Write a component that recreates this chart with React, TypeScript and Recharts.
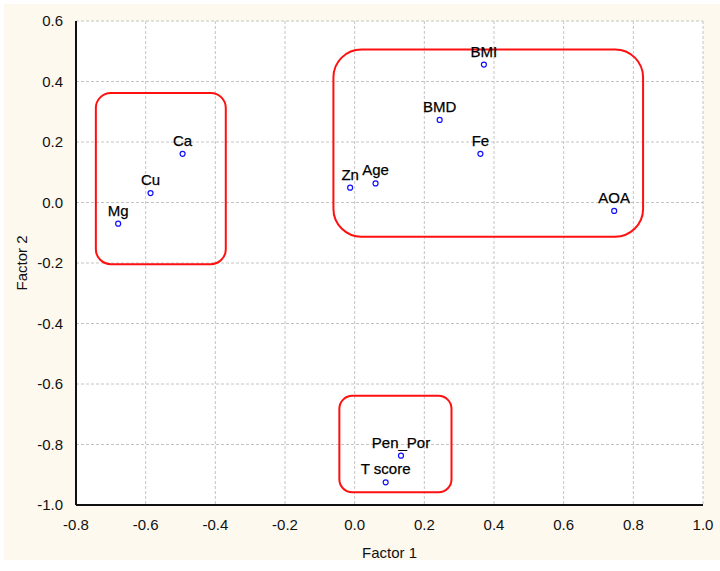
import { ScatterChart, Scatter, XAxis, YAxis, CartesianGrid, ReferenceArea, Label } from 'recharts';

const names = ['Mg', 'Cu', 'Ca', 'Zn', 'Age', 'BMI', 'BMD', 'Fe', 'AOA', 'Pen_Por', 'T score'];
const factor1 = [-0.679, -0.586, -0.494, -0.013, 0.06, 0.371, 0.244, 0.361, 0.745, 0.133, 0.089];
const factor2 = [-0.07, 0.031, 0.161, 0.049, 0.063, 0.456, 0.273, 0.161, -0.028, -0.837, -0.925];

const xTicks = [-0.8, -0.6, -0.4, -0.2, 0, 0.2, 0.4, 0.6, 0.8, 1.0];
const yTicks = [-1.0, -0.8, -0.6, -0.4, -0.2, 0, 0.2, 0.4, 0.6];

// cluster outlines: [x1, x2, y1, y2, corner]
const groups = [
  [-0.743, -0.37, -0.204, 0.362, 15],
  [-0.061, 0.828, -0.113, 0.506, 28],
  [-0.044, 0.278, -0.958, -0.639, 13],
];

const points = names.map((name, i) => ({ name, x: factor1[i], y: factor2[i] }));

const font = 'Liberation Sans, Arial, sans-serif';
const tickStyle = { fontSize: 15, fill: '#111', fontFamily: font };
const fmt = (v: number) => v.toFixed(1);

const Point = (props: any) => {
  const { cx, cy, payload } = props;
  return (
    <g>
      <circle cx={cx} cy={cy} r={2.5} fill="#fff" stroke="#1010ff" strokeWidth={1.2} />
      <text x={cx} y={cy - 8} textAnchor="middle" fontSize={15} fontFamily={font} fill="#000" stroke="#000" strokeWidth={0.25}>
        {payload.name}
      </text>
    </g>
  );
};

export default function App() {
  return (
    <div style={{ position: 'absolute', left: 0, top: 0, width: 720, height: 571, background: '#fff' }}>
      <div style={{ position: 'absolute', left: 4, top: 4, width: 716, height: 556, background: '#fdf9ee' }} />
      <div style={{ position: 'absolute', left: 0, top: 0 }}>
        <ScatterChart width={720} height={571} margin={{ top: 21, right: 17, left: 0, bottom: 0 }}>
          <CartesianGrid xAxisId="main" yAxisId="main" fill="#fff" stroke="#c4c4c4" strokeDasharray="3 2" />
          <XAxis
            xAxisId="main"
            type="number"
            dataKey="x"
            domain={[-0.8, 1.0]}
            ticks={xTicks}
            tickFormatter={fmt}
            height={66}
            tickLine={false}
            tickMargin={8}
            tick={tickStyle}
            axisLine={{ stroke: '#111', strokeWidth: 2 }}
          >
            <Label value="Factor 1" position="insideBottom" offset={13} style={{ fontSize: 15, fill: '#111', fontFamily: font }} />
          </XAxis>
          <XAxis xAxisId="bin" type="number" domain={[-0.8, 1.0]} ticks={xTicks} orientation="bottom" mirror height={0} tick={false} tickSize={3} axisLine={false} tickLine={{ stroke: '#111' }} />
          <XAxis xAxisId="top" type="number" domain={[-0.8, 1.0]} ticks={xTicks} orientation="top" mirror height={0} tick={false} tickSize={3} axisLine={{ stroke: '#222', strokeWidth: 2 }} tickLine={{ stroke: '#111' }} />
          <YAxis
            yAxisId="main"
            type="number"
            dataKey="y"
            domain={[-1.0, 0.6]}
            ticks={yTicks}
            tickFormatter={fmt}
            width={76}
            tickLine={false}
            tickMargin={7}
            tick={tickStyle}
            axisLine={{ stroke: '#111', strokeWidth: 2 }}
          >
            <Label value="Factor 2" angle={-90} position="insideLeft" offset={22} style={{ fontSize: 15, fill: '#111', fontFamily: font, textAnchor: 'middle' }} />
          </YAxis>
          <YAxis yAxisId="lin" type="number" domain={[-1.0, 0.6]} ticks={yTicks} orientation="left" mirror width={0} tick={false} tickSize={3} axisLine={false} tickLine={{ stroke: '#111' }} />
          <YAxis yAxisId="right" type="number" domain={[-1.0, 0.6]} ticks={yTicks} orientation="right" mirror width={0} tick={false} tickSize={3} axisLine={{ stroke: '#111', strokeWidth: 2 }} tickLine={{ stroke: '#111' }} />
          {groups.map((g, i) => (
            <ReferenceArea
              key={i}
              xAxisId="main"
              yAxisId="main"
              x1={g[0]}
              x2={g[1]}
              y1={g[2]}
              y2={g[3]}
              shape={(p: any) => (
                <rect x={p.x} y={p.y} width={p.width} height={p.height} rx={g[4]} ry={g[4]} fill="none" stroke="#ff1010" strokeWidth={2} />
              )}
            />
          ))}
          <Scatter xAxisId="main" yAxisId="main" data={points} shape={<Point />} isAnimationActive={false} />
        </ScatterChart>
      </div>
    </div>
  );
}
